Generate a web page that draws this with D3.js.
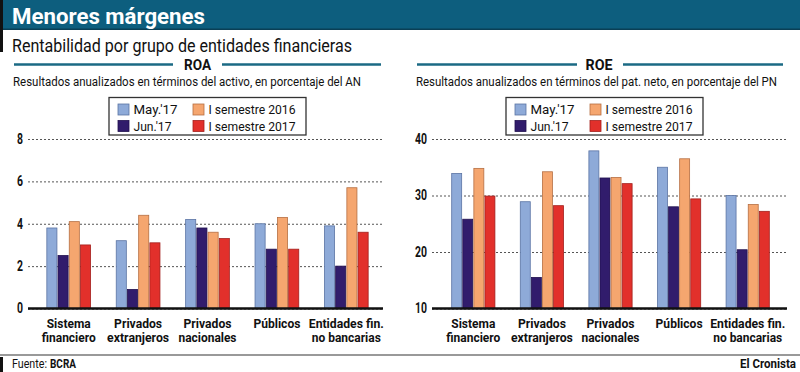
<!DOCTYPE html>
<html>
<head>
<meta charset="utf-8">
<script src="https://cdn.jsdelivr.net/npm/d3@7"></script>
<style>
  body { margin: 0; background: #fff; }
  svg { display: block; font-family: Roboto, "Liberation Sans", sans-serif; }
</style>
</head>
<body>
<div id="app"></div>
<script>
// Data
const categories = [
  ["Sistema", "financiero"],
  ["Privados", "extranjeros"],
  ["Privados", "nacionales"],
  ["Públicos"],
  ["Entidades fin.", "no bancarias"]
];
// printed widths of each label line in the reference (condensed face)
const categoryWidths = [[44, 54], [48, 62], [48, 58], [47], [75, 69]];
const series = ["May.'17", "Jun.'17", "I semestre 2016", "I semestre 2017"];
const seriesWidths = [44, 38, 87, 87];
const colors = ["#8eaad8", "#311c6c", "#f5a66f", "#e2302b"];
const strokes = ["#5b74a4", "#21114f", "#b66f43", "#a3201d"];

const roaMay = [3.8, 3.2, 4.2, 4.0, 3.9];
const roaJun = [2.5, 0.9, 3.8, 2.8, 2.0];
const roa2016 = [4.1, 4.4, 3.6, 4.3, 5.7];
const roa2017 = [3.0, 3.1, 3.3, 2.8, 3.6];
const roaTicks = [0, 2, 4, 6, 8];

const roeMay = [33.9, 28.9, 37.9, 35.0, 30.0];
const roeJun = [25.8, 15.5, 33.1, 28.0, 20.4];
const roe2016 = [34.8, 34.2, 33.2, 36.5, 28.4];
const roe2017 = [29.9, 28.2, 32.1, 29.4, 27.2];
const roeTicks = [10, 20, 30, 40];

const width = 800;
const height = 372;
const teal = "#0d5e7e";

// squeeze text to the condensed width of the original
const fit = (sel, w) => sel.attr("textLength", w).attr("lengthAdjust", "spacingAndGlyphs");

const svg = d3
  .select("#app")
  .append("svg")
  .attr("width", width)
  .attr("height", height);

// Header band
svg.append("rect").attr("x", 0).attr("y", 0).attr("width", width).attr("height", 29).attr("fill", teal);
svg.append("rect").attr("x", 0).attr("y", 28.5).attr("width", width).attr("height", 1.5).attr("fill", "#0a3f55");
svg.append("rect").attr("x", 0).attr("y", 0).attr("width", 3).attr("height", 52).attr("fill", "#111");

svg.append("text")
  .attr("x", 12).attr("y", 23.5)
  .attr("fill", "#fff")
  .attr("font-size", 21.5)
  .attr("font-weight", "bold")
  .text("Menores márgenes")
  .call(fit, 193);

svg.append("text")
  .attr("x", 12).attr("y", 51.5)
  .attr("fill", "#111")
  .attr("font-size", 17.5)
  .text("Rentabilidad por grupo de entidades financieras")
  .call(fit, 340);

// Footer
svg.append("rect").attr("x", 0).attr("y", 354).attr("width", width).attr("height", 2).attr("fill", "#999");
svg.append("rect").attr("x", 0).attr("y", 357).attr("width", 3).attr("height", 15).attr("fill", "#111");
svg.append("text").attr("x", 12).attr("y", 368).attr("font-size", 12).attr("fill", "#111")
  .text("Fuente:").call(fit, 35);
svg.append("text").attr("x", 50).attr("y", 368).attr("font-size", 12).attr("font-weight", "bold")
  .attr("fill", "#111").text("BCRA").call(fit, 26);
svg.append("text")
  .attr("x", 796).attr("y", 368)
  .attr("text-anchor", "end")
  .attr("font-size", 12.5)
  .attr("font-weight", "bold")
  .attr("fill", "#111")
  .text("El Cronista")
  .call(fit, 56);

function panel(opts) {
  const g = svg.append("g");
  const { left, right, title, titleX, rules, note, noteX, noteWidth, values, domain, ticks, groupRange, legendX } = opts;

  // Section heading with rules
  rules.forEach((r) => {
    g.append("line").attr("x1", r[0]).attr("x2", r[1]).attr("y1", 64.5).attr("y2", 64.5)
      .attr("stroke", "#1b6a84").attr("stroke-width", 2.6);
  });
  g.append("text").attr("x", titleX).attr("y", 69.5)
    .attr("text-anchor", "middle").attr("font-size", 14).attr("font-weight", "bold")
    .attr("fill", "#111").text(title).call(fit, 27);

  g.append("text").attr("x", noteX).attr("y", 86)
    .attr("font-size", 12.5).attr("fill", "#111").text(note).call(fit, noteWidth);

  // Legend
  const lg = g.append("g").attr("transform", `translate(${legendX}, 97.5)`);
  lg.append("rect").attr("width", 197).attr("height", 37.5)
    .attr("fill", "#fff").attr("stroke", "#333").attr("stroke-width", 1.3);
  const item = lg.selectAll("g.item")
    .data(series)
    .enter()
    .append("g")
    .attr("class", "item")
    .attr("transform", (d, i) => `translate(${i < 2 ? 9 : 84}, ${i % 2 === 0 ? 6.5 : 23})`);
  item.append("rect").attr("width", 11).attr("height", 11)
    .attr("fill", (d, i) => colors[i]).attr("stroke", (d, i) => strokes[i]).attr("stroke-width", 0.8);
  item.append("text").attr("x", 15.5).attr("y", 10)
    .attr("font-size", 13.5).attr("fill", "#111").text((d) => d)
    .each(function (d, i) { d3.select(this).call(fit, seriesWidths[i]); });

  // Scales
  const x0 = d3.scaleBand()
    .domain(d3.range(categories.length))
    .range(groupRange)
    .paddingInner(0.37)
    .paddingOuter(0.185);
  const x1 = d3.scaleBand()
    .domain(d3.range(series.length))
    .range([0, x0.bandwidth()])
    .paddingInner(0.1);
  const y = d3.scaleLinear().domain(domain).range([308.5, 139]);

  // Grid + tick labels
  const yAxis = d3.axisLeft(y)
    .tickValues(ticks)
    .tickSize(-(right - left))
    .tickPadding(5);
  const ya = g.append("g")
    .attr("transform", `translate(${left}, 0)`)
    .call(yAxis);
  ya.select(".domain").remove();
  ya.selectAll(".tick line")
    .attr("stroke", "#555")
    .attr("stroke-width", 1)
    .attr("stroke-dasharray", "2,2");
  ya.selectAll(".tick text")
    .attr("font-family", "Roboto, sans-serif")
    .attr("font-size", 14)
    .attr("font-weight", "bold")
    .attr("fill", "#111")
    .each(function (d) { d3.select(this).call(fit, String(d).length * 6); });

  // Bars
  const group = g.selectAll("g.grp")
    .data(categories.map((c, i) => i))
    .enter()
    .append("g")
    .attr("class", "grp")
    .attr("transform", (d) => `translate(${x0(d)}, 0)`);
  group.selectAll("rect")
    .data((d) => values.map((s, j) => ({ j, v: s[d] })))
    .enter()
    .append("rect")
    .attr("x", (d) => x1(d.j))
    .attr("width", x1.bandwidth())
    .attr("y", (d) => y(d.v))
    .attr("height", (d) => y(domain[0]) - y(d.v))
    .attr("fill", (d) => colors[d.j])
    .attr("stroke", (d) => strokes[d.j])
    .attr("stroke-width", 0.8);

  // Baseline
  g.append("line").attr("x1", left).attr("x2", right)
    .attr("y1", y(domain[0])).attr("y2", y(domain[0]))
    .attr("stroke", "#111").attr("stroke-width", 2.5);

  // Category labels
  const xAxis = d3.axisBottom(x0).tickSize(0).tickFormat("");
  const xa = g.append("g")
    .attr("transform", `translate(0, ${y(domain[0])})`)
    .call(xAxis);
  xa.select(".domain").remove();
  xa.selectAll(".tick").each(function (d) {
    const tick = d3.select(this);
    categories[d].forEach((line, k) => {
      tick.append("text")
        .attr("x", 0)
        .attr("y", 19.5 + k * 14)
        .attr("fill", "#111")
        .attr("font-family", "Roboto, sans-serif")
        .attr("font-size", 12.5)
        .attr("font-weight", "bold")
        .attr("text-anchor", "middle")
        .text(line)
        .call(fit, categoryWidths[d][k]);
    });
  });
}

panel({
  left: 28, right: 383,
  title: "ROA", titleX: 197.5,
  rules: [[14, 173], [222, 381]],
  note: "Resultados anualizados en términos del activo, en porcentaje del AN",
  noteX: 13, noteWidth: 348,
  values: [roaMay, roaJun, roa2016, roa2017],
  domain: [0, 8], ticks: roaTicks,
  groupRange: [34, 381],
  legendX: 109
});

panel({
  left: 432, right: 787,
  title: "ROE", titleX: 599,
  rules: [[417, 577], [623, 783]],
  note: "Resultados anualizados en términos del pat. neto, en porcentaje del PN",
  noteX: 416, noteWidth: 361,
  values: [roeMay, roeJun, roe2016, roe2017],
  domain: [10, 40], ticks: roeTicks,
  groupRange: [439, 782],
  legendX: 506
});
</script>
</body>
</html>
